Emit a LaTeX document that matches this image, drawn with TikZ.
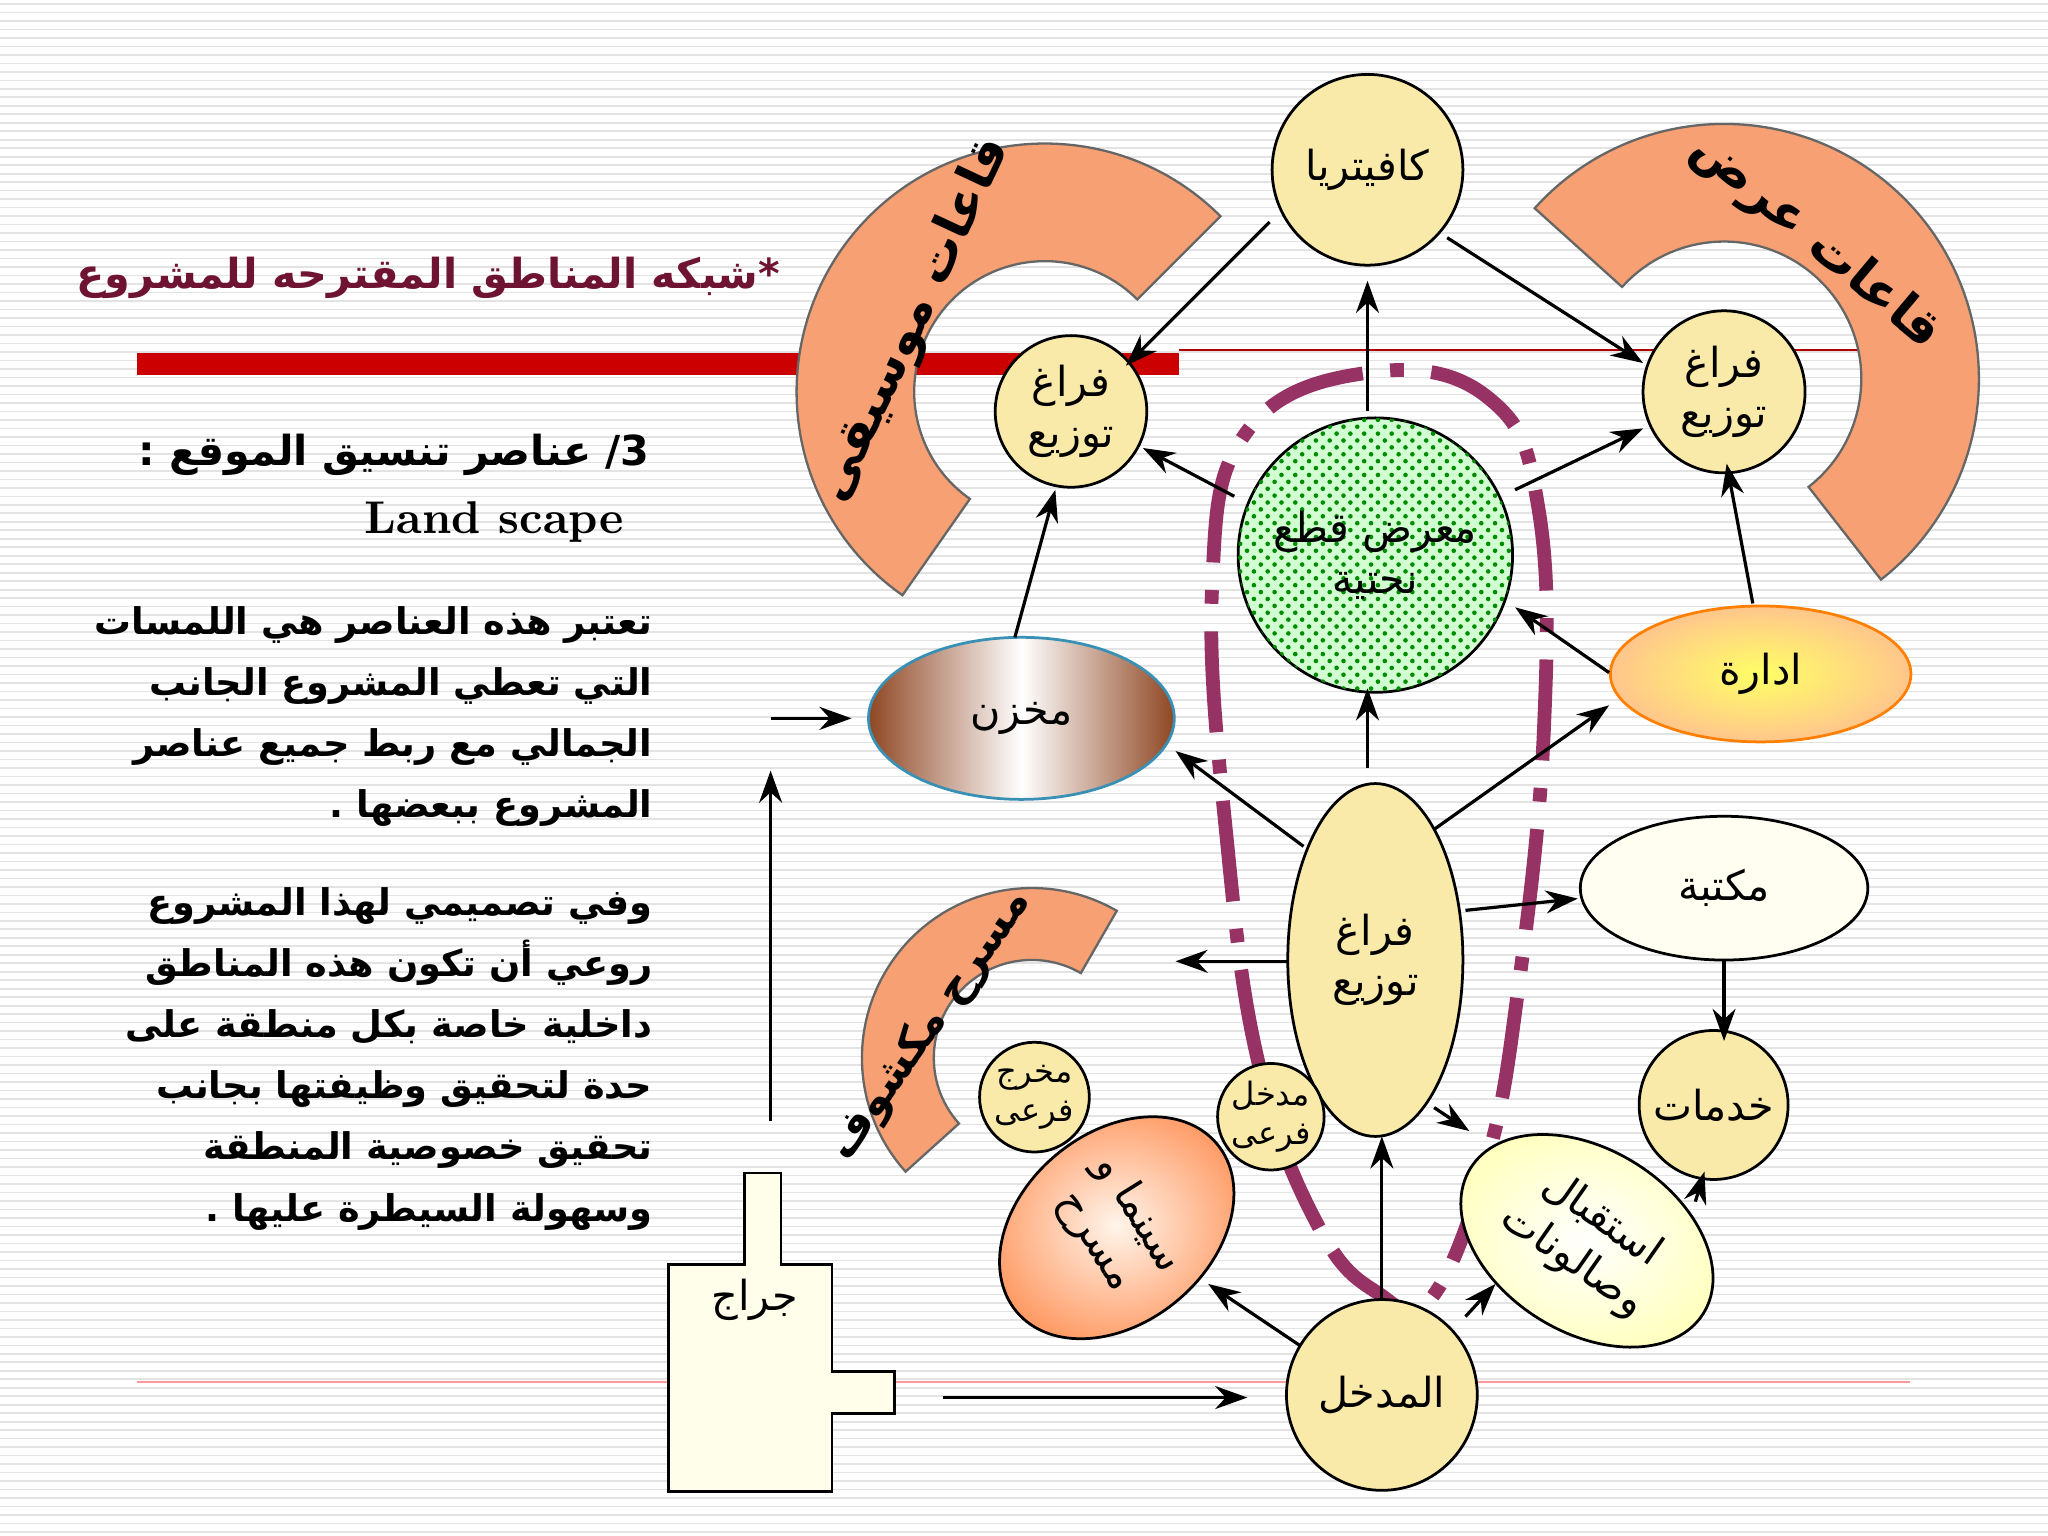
\documentclass[tikz,border=0pt]{standalone}
\usepackage{fontspec}
\newfontfamily\ar[Script=Arabic]{DejaVu Sans}
\TeXXeTstate=1
\newcommand{\AR}[1]{{\ar\beginR #1\endR}}
\usetikzlibrary{shapes.geometric,patterns,arrows.meta}
\definecolor{nodey}{RGB}{250,234,170}
\definecolor{arcor}{RGB}{247,160,115}
\definecolor{maroon}{RGB}{150,50,100}
\definecolor{titlec}{RGB}{110,20,50}
\tikzset{
  ar/.style={-{Stealth[length=7pt,width=5pt]},line width=0.7pt},
  yc/.style={circle,draw,line width=0.6pt,fill=nodey,align=center,font=\fontsize{9}{11}\selectfont,inner sep=0pt},
  ye/.style={ellipse,draw,line width=0.6pt,align=center,font=\fontsize{9}{11}\selectfont,inner sep=0pt},
  arcs/.style={fill=arcor,draw=black!60,line width=0.5pt}
}
\begin{document}
\begin{tikzpicture}[x=0.01cm,y=-0.01cm]
\useasboundingbox (0,0) rectangle (1568,1176);
\fill[white] (0,0) rectangle (1568,1176);
\foreach \yy in {3,9.5,...,1176} \draw[gray!22,line width=0.35pt] (0,\yy) -- (1568,\yy);
\node[font=\bfseries\fontsize{9}{11}\selectfont,text=titlec] (title) at (328,213) {\AR{*شبكه المناطق المقترحه للمشروع}};
\fill[red!80!black] (105,270) rectangle (903,287);
\draw[red!70!black,line width=0.5pt] (903,268) -- (1470,268);
\draw[red!40,line width=0.5pt] (105,1058) -- (1462,1058);
\node[anchor=east,font=\bfseries\fontsize{9}{11}\selectfont] (h3) at (510,348) {\AR{3/ عناصر تنسيق الموقع :}};
\node[anchor=east,font=\bfseries\fontsize{10}{12}\selectfont] (ls) at (490,400) {Land scape};
\node[anchor=north east,align=right,font=\bfseries\fontsize{8}{13.3}\selectfont] (para) at (512,452) {%
\AR{تعتبر هذه العناصر هي اللمسات}\\
\AR{التي تعطي المشروع الجانب}\\
\AR{الجمالي مع ربط جميع عناصر}\\
\AR{المشروع ببعضها .}\\[8pt]
\AR{وفي تصميمي لهذا المشروع}\\
\AR{روعي أن تكون هذه المناطق}\\
\AR{داخلية خاصة بكل منطقة على}\\
\AR{حدة لتحقيق وظيفتها بجانب}\\
\AR{تحقيق خصوصية المنطقة}\\
\AR{وسهولة السيطرة عليها .}};
\fill[arcs] ([shift={(800,300)}]45:1.9cm) arc[start angle=45,end angle=235,radius=1.9cm] -- ([shift={(800,300)}]235:1.0cm) arc[start angle=235,end angle=45,radius=1.0cm] -- cycle;
\fill[arcs] ([shift={(1320,290)}]138:1.95cm) arc[start angle=138,end angle=-52,radius=1.95cm] -- ([shift={(1320,290)}]-52:1.05cm) arc[start angle=-52,end angle=138,radius=1.05cm] -- cycle;
\fill[arcs] ([shift={(790,810)}]60:1.3cm) arc[start angle=60,end angle=222,radius=1.3cm] -- ([shift={(790,810)}]222:0.75cm) arc[start angle=222,end angle=60,radius=0.75cm] -- cycle;
\node[rotate=65,font=\bfseries\fontsize{11}{12}\selectfont] (musl) at (700,245) {\AR{قاعات موسيقى}};
\node[rotate=-40,font=\bfseries\fontsize{11}{12}\selectfont] (exl) at (1390,185) {\AR{قاعات عرض}};
\node[rotate=55,font=\bfseries\fontsize{9.5}{11}\selectfont] (thl) at (712,785) {\AR{مسرح مكشوف}};
\draw[maroon,line width=3pt,dash pattern=on 22pt off 6pt on 3pt off 6pt] plot[smooth cycle,tension=0.7] coordinates {(1055,990) (1010,940) (965,820) (940,650) (928,450) (955,330) (1050,285) (1140,305) (1178,390) (1182,560) (1162,760) (1138,890) (1095,995)};
\node[yc,minimum size=1.46cm] (caf) at (1047,130) {\AR{كافيتريا}};
\node[yc,minimum size=1.16cm] (fl) at (820,315) {\AR{فراغ}\\\AR{توزيع}};
\node[yc,minimum size=1.24cm] (fr) at (1320,300) {\AR{فراغ}\\\AR{توزيع}};
\node[circle,draw,line width=0.6pt,fill=green!18,minimum size=2.1cm] (sc0) at (1053,425) {};
\node[circle,pattern=crosshatch dots,pattern color=green!55!black,minimum size=2.1cm,align=center,font=\fontsize{9}{11}\selectfont] (sc) at (1053,425) {\AR{معرض قطع}\\\AR{نحتية}};
\node[ye,draw=orange,inner color=yellow!60,outer color=orange!45,minimum width=2.3cm,minimum height=1.04cm] (adm) at (1348,516) {\AR{ادارة}};
\node[ye,draw=cyan!70!black,left color=brown!80!red!70!black,right color=brown!80!red!70!black,middle color=white,minimum width=2.34cm,minimum height=1.24cm] (mkh) at (782,550) {\AR{مخزن}};
\node[ye,fill=nodey,minimum width=1.34cm,minimum height=2.7cm] (fc) at (1053,735) {\AR{فراغ}\\\AR{توزيع}};
\node[ye,fill=yellow!6,minimum width=2.2cm,minimum height=1.1cm] (lib) at (1320,680) {\AR{مكتبة}};
\node[yc,minimum size=1.14cm] (srv) at (1312,846) {\AR{خدمات}};
\node[yc,minimum size=0.84cm,font=\fontsize{7}{8.5}\selectfont] (ex) at (792,840) {\AR{مخرج}\\\AR{فرعى}};
\node[yc,minimum size=0.74cm,font=\fontsize{7}{8.5}\selectfont] (en2) at (973,855) {\AR{مدخل}\\\AR{فرعى}};
\node[ellipse,draw,line width=0.6pt,inner color=orange!8,outer color=orange!70!red!60,minimum width=2.0cm,minimum height=1.45cm,rotate=40] (cin) at (855,940) {};
\node[rotate=-58,align=center,font=\fontsize{9}{11}\selectfont] (cint) at (855,940) {\AR{سينما و}\\\AR{مسرح}};
\node[ellipse,draw,line width=0.6pt,inner color=white,outer color=yellow!25,minimum width=2.1cm,minimum height=1.4cm,rotate=-32] (rec) at (1215,950) {};
\node[rotate=-35,align=center,font=\fontsize{9}{11}\selectfont] (rect) at (1215,950) {\AR{استقبال}\\\AR{وصالونات}};
\node[yc,minimum size=1.46cm] (ent) at (1058,1068) {\AR{المدخل}};
\draw[fill=yellow!8,line width=0.6pt] (512,968) -- (570,968) -- (570,898) -- (598,898) -- (598,968) -- (637,968) -- (637,1050) -- (685,1050) -- (685,1082) -- (637,1082) -- (637,1142) -- (512,1142) -- cycle;
\node[font=\fontsize{9}{11}\selectfont] (gar) at (578,995) {\AR{جراج}};
\coordinate (a1) at (972,170); \coordinate (a2) at (862,280); \draw[ar] (a1) -- (a2);
\coordinate (b1) at (1108,182); \coordinate (b2) at (1258,278); \draw[ar] (b1) -- (b2);
\coordinate (c1) at (1047,315); \coordinate (c2) at (1047,215); \draw[ar] (c1) -- (c2);
\coordinate (d1) at (945,380); \coordinate (d2) at (875,343); \draw[ar] (d1) -- (d2);
\coordinate (e1) at (1160,375); \coordinate (e2) at (1258,328); \draw[ar] (e1) -- (e2);
\coordinate (f1) at (1342,462); \coordinate (f2) at (1322,355); \draw[ar] (f1) -- (f2);
\coordinate (g1) at (1232,515); \coordinate (g2) at (1160,465); \draw[ar] (g1) -- (g2);
\coordinate (h1) at (1047,588); \coordinate (h2) at (1047,527); \draw[ar] (h1) -- (h2);
\coordinate (i1) at (1098,635); \coordinate (i2) at (1232,540); \draw[ar] (i1) -- (i2);
\coordinate (j1) at (998,648); \coordinate (j2) at (900,575); \draw[ar] (j1) -- (j2);
\coordinate (k1) at (777,488); \coordinate (k2) at (808,375); \draw[ar] (k1) -- (k2);
\coordinate (l1) at (985,736); \coordinate (l2) at (900,736); \draw[ar] (l1) -- (l2);
\coordinate (m1) at (1122,697); \coordinate (m2) at (1208,688); \draw[ar] (m1) -- (m2);
\coordinate (n1) at (1320,735); \coordinate (n2) at (1320,797); \draw[ar] (n1) -- (n2);
\coordinate (o1) at (1098,848); \coordinate (o2) at (1125,866); \draw[ar] (o1) -- (o2);
\coordinate (p1) at (1298,920); \coordinate (p2) at (1305,897); \draw[ar] (p1) -- (p2);
\coordinate (q1) at (1058,995); \coordinate (q2) at (1058,870); \draw[ar] (q1) -- (q2);
\coordinate (r1) at (995,1030); \coordinate (r2) at (925,983); \draw[ar] (r1) -- (r2);
\coordinate (s1) at (1122,1008); \coordinate (s2) at (1145,983); \draw[ar] (s1) -- (s2);
\coordinate (t1) at (722,1070); \coordinate (t2) at (955,1070); \draw[ar] (t1) -- (t2);
\coordinate (u1) at (590,858); \coordinate (u2) at (590,590); \draw[ar] (u1) -- (u2);
\coordinate (v1) at (590,550); \coordinate (v2) at (652,550); \draw[ar] (v1) -- (v2);
\end{tikzpicture}
\end{document}
